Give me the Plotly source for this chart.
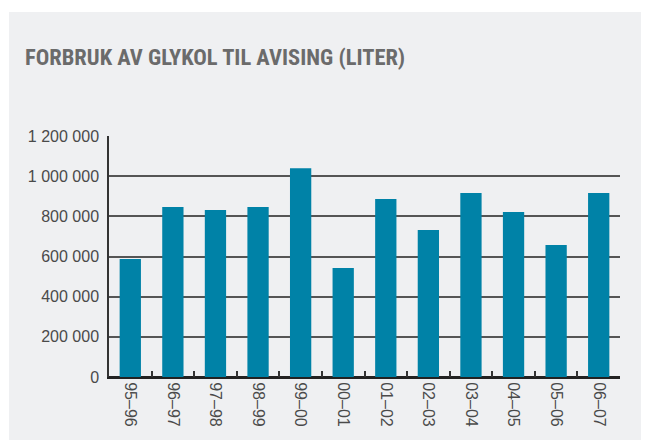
import plotly.graph_objects as go

categories = ["95–96", "96–97", "97–98", "98–99", "99–00", "00–01",
              "01–02", "02–03", "03–04", "04–05", "05–06", "06–07"]
values = [588000, 846000, 832000, 846000, 1040000, 543000,
          886000, 732000, 916000, 821000, 657000, 916000]
y_ticks = [0, 200000, 400000, 600000, 800000, 1000000, 1200000]
y_tick_labels = ["0", "200 000", "400 000", "600 000", "800 000", "1 000 000", "1 200 000"]
title_text = "FORBRUK AV GLYKOL TIL AVISING (LITER)"

# page has an 8px body margin; figure origin sits at page (8, 8)
W, H = 641, 432
L, R, T, B = 101, 29, 128, 63
pw, ph = W - L - R, H - T - B

fig = go.Figure()
fig.add_trace(go.Bar(x=categories, y=values, marker_color="#0082a7",
                     marker_line_width=0, width=0.5))

panel_color = "#eff0f2"
fig.add_shape(type="rect", xref="paper", yref="paper", layer="below",
              x0=(1 - L) / pw, x1=(W + 10 - L) / pw,
              y0=-(B + 10) / ph, y1=(H - B - 4) / ph,
              fillcolor=panel_color, line_width=0)

fig.add_annotation(text=f"<b>{title_text}</b>", xref="paper", yref="paper",
                   x=(15 - L) / pw, y=(H - B - 49) / ph, xanchor="left", yanchor="middle",
                   showarrow=False,
                   font=dict(family="Roboto Condensed", size=22.5, color="#6b6b6b"))

fig.update_layout(
    width=W, height=H,
    margin=dict(l=L, r=R, t=T, b=B),
    paper_bgcolor="white", plot_bgcolor="rgba(0,0,0,0)",
    showlegend=False,
    font=dict(family="Liberation Sans, Arial", color="#4a4a4a", size=16),
)
fig.update_xaxes(tickangle=90, tickson="boundaries", ticks="inside", ticklen=6,
                 tickcolor="#333333", tickwidth=1.5, showline=True, linecolor="#222222",
                 linewidth=2, showgrid=False, tickfont=dict(size=16, color="#4a4a4a"))
fig.update_yaxes(range=[0, 1200000], tickvals=y_ticks, ticktext=y_tick_labels,
                 showgrid=True, gridcolor="#555555", gridwidth=1.5,
                 zeroline=True, zerolinecolor="#222222", zerolinewidth=2,
                 showline=True, linecolor="#333333", linewidth=1.5, ticks="",
                 ticklabelstandoff=5, tickfont=dict(size=16, color="#4a4a4a"))

fig.write_html("out.html")
